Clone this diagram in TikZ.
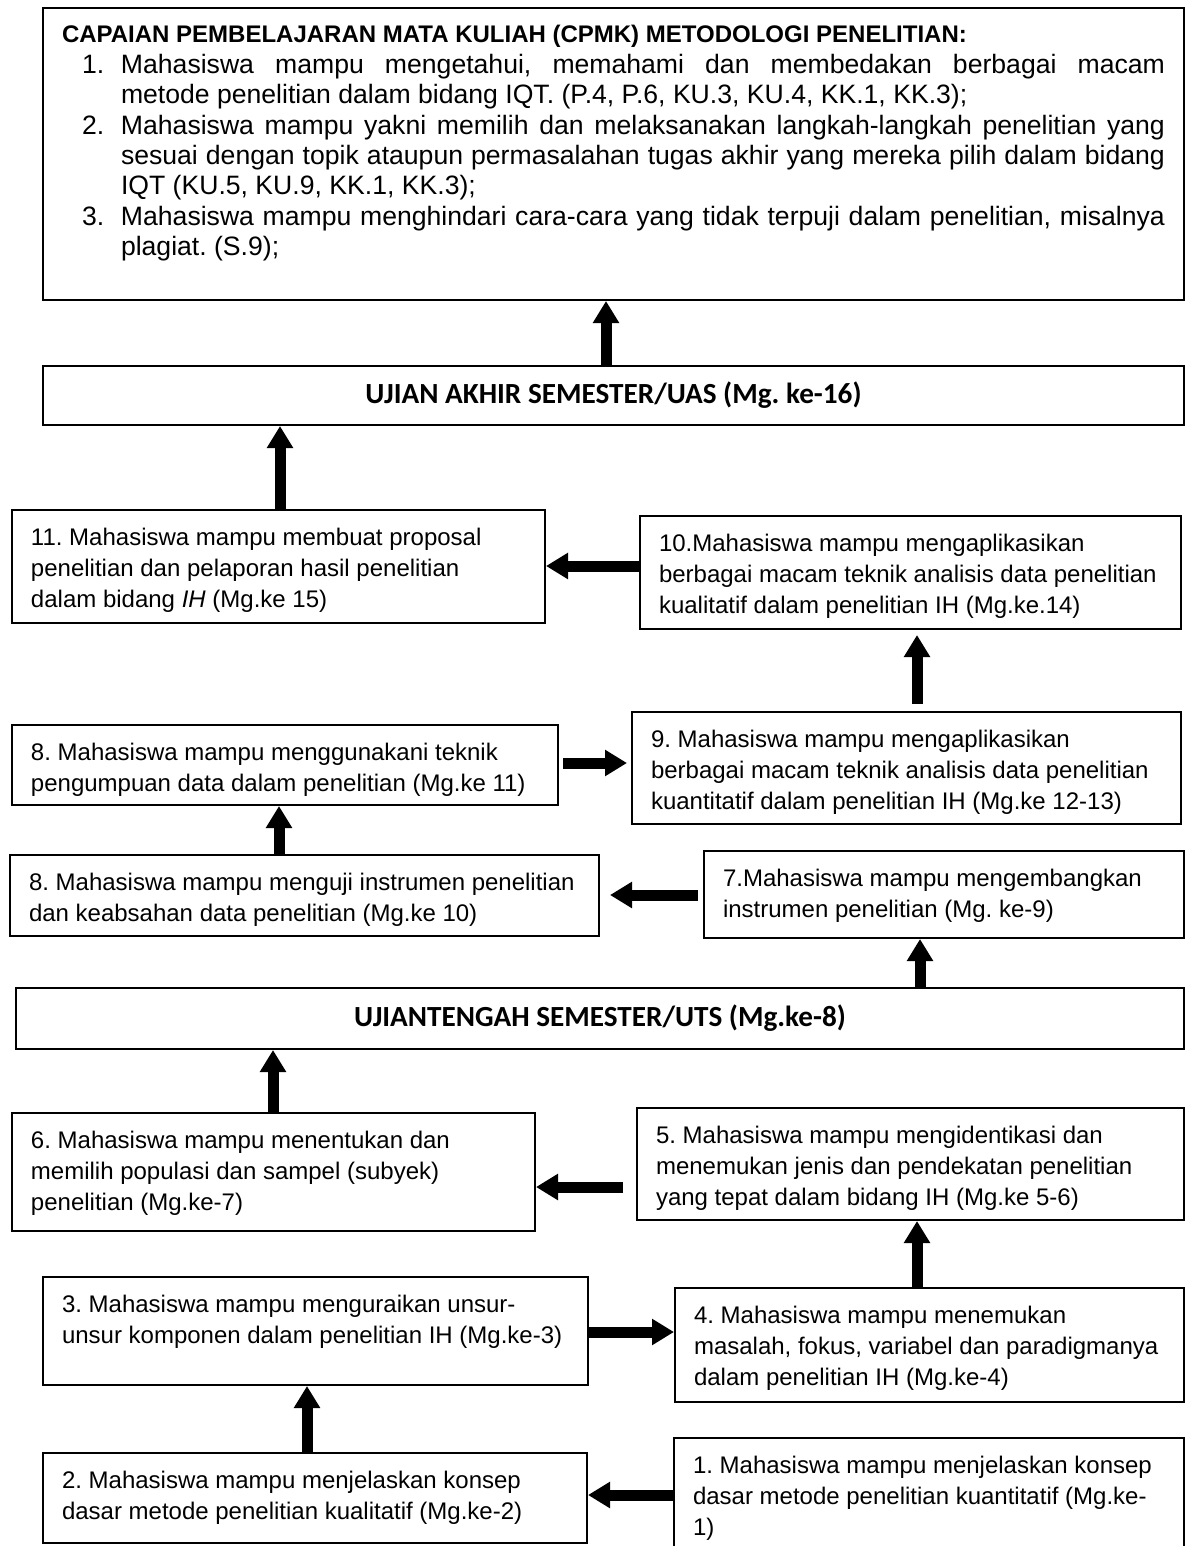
\documentclass[tikz,border=0pt]{standalone}
\usepackage{fontspec}
\setmainfont{Liberation Sans}
\newfontfamily\carlito{Carlito}
\usetikzlibrary{arrows.meta}
\frenchspacing

\newcommand{\butir}[2]{\par\leftskip=29.5pt\noindent\llap{\makebox[19.5pt][l]{#1}}#2\par}

\tikzset{
  kotak/.style={draw, line width=1pt, anchor=north west, inner xsep=9.5pt, inner ysep=4pt, text height=13.5pt},
  langkah/.style={kotak, align=flush left, font=\fontsize{12}{15.5}\selectfont},
  ujian/.style={draw, line width=1pt, anchor=north west, inner sep=0pt, font=\carlito\bfseries\fontsize{14.6}{17}\selectfont},
  panah/.style={line width=5.5pt, -{Triangle[length=11pt, width=12.5pt]}}
}

\begin{document}
\begin{tikzpicture}[x=0.5pt, y=-0.5pt]
\useasboundingbox (0,0) rectangle (1187,1546);

% Capaian pembelajaran
\node[kotak, text width=551.5pt, text depth=124.5pt, align=justify, font=\fontsize{13.3}{15.2}\selectfont] (cpmk) at (42,7) {%
  \hyphenpenalty=10000 \spaceskip=0pt \xspaceskip=0pt \rightskip=0pt \parfillskip=0pt plus 1fil
  {\fontsize{12}{15.2}\selectfont\bfseries CAPAIAN PEMBELAJARAN MATA KULIAH (CPMK) METODOLOGI PENELITIAN:\par}
  \butir{1.}{Mahasiswa mampu mengetahui, memahami dan membedakan berbagai macam\linebreak metode penelitian dalam bidang IQT. (P.4, P.6, KU.3, KU.4, KK.1, KK.3);}
  \butir{2.}{Mahasiswa mampu yakni memilih dan melaksanakan langkah-langkah penelitian yang\linebreak sesuai dengan topik ataupun permasalahan tugas akhir yang mereka pilih dalam bidang\linebreak IQT (KU.5, KU.9, KK.1, KK.3);}
  \butir{3.}{Mahasiswa mampu menghindari cara-cara yang tidak terpuji dalam penelitian, misalnya\linebreak plagiat. (S.9);}};

% Ujian
\node[ujian, minimum width=570.5pt, minimum height=29.5pt] (uas) at (42,365) {UJIAN AKHIR SEMESTER/UAS (Mg. ke-16)};
\node[ujian, minimum width=584pt, minimum height=30.5pt] (uts) at (15,987) {UJIANTENGAH SEMESTER/UTS (Mg.ke-8)};

% Kotak sesudah UTS
\node[langkah, text width=247.5pt, text depth=35pt] (k11) at (11,509) {11. Mahasiswa mampu membuat proposal\\ penelitian dan pelaporan hasil penelitian\\ dalam bidang \textit{IH} (Mg.ke 15)};
\node[langkah, text width=251.5pt, text depth=35pt] (k10) at (639,515) {10.Mahasiswa mampu mengaplikasikan\\ berbagai macam teknik analisis data penelitian\\ kualitatif dalam penelitian IH (Mg.ke.14)};
\node[langkah, text width=254pt, text depth=18.5pt] (k8a) at (11,724) {8. Mahasiswa mampu menggunakani teknik\\ pengumpuan data dalam penelitian (Mg.ke 11)};
\node[langkah, text width=255.5pt, text depth=34.5pt] (k9) at (631,711) {9. Mahasiswa mampu mengaplikasikan\\ berbagai macam teknik analisis data penelitian\\ kuantitatif dalam penelitian IH (Mg.ke 12-13)};
\node[langkah, text width=275.5pt, text depth=19pt] (k8b) at (9,854) {8. Mahasiswa mampu menguji instrumen penelitian\\ dan keabsahan data penelitian (Mg.ke 10)};
\node[langkah, text width=221pt, text depth=22pt] (k7) at (703,850) {7.Mahasiswa mampu mengembangkan\\ instrumen penelitian (Mg. ke-9)};

% Kotak sebelum UTS
\node[langkah, text width=242.5pt, text depth=37.5pt] (k6) at (11,1112) {6. Mahasiswa mampu menentukan dan\\ memilih populasi dan sampel (subyek)\\ penelitian (Mg.ke-7)};
\node[langkah, text width=254.5pt, text depth=34.5pt] (k5) at (636,1107) {5. Mahasiswa mampu mengidentikasi dan\\ menemukan jenis dan pendekatan penelitian\\ yang tepat dalam bidang IH (Mg.ke 5-6)};
\node[langkah, text width=253.5pt, text depth=32.5pt] (k3) at (42,1276) {3. Mahasiswa mampu menguraikan unsur-\\ unsur komponen dalam penelitian IH (Mg.ke-3)};
\node[langkah, text width=235.5pt, text depth=35.5pt] (k4) at (674,1287) {4. Mahasiswa mampu menemukan\\ masalah, fokus, variabel dan paradigmanya\\ dalam penelitian IH (Mg.ke-4)};
\node[langkah, text width=253pt, text depth=23.5pt] (k2) at (42,1452) {2. Mahasiswa mampu menjelaskan konsep\\ dasar metode penelitian kualitatif (Mg.ke-2)};
\node[langkah, text width=236pt, text depth=35pt] (k1) at (673,1437) {1. Mahasiswa mampu menjelaskan konsep\\ dasar metode penelitian kuantitatif (Mg.ke-\\ 1)};

% Panah
\draw[panah] (k1.west |- 0,1495) -- (k2.east |- 0,1495);
\draw[panah] (k2.north -| 307,0) -- (k3.south -| 307,0);
\draw[panah] (k3.east |- 0,1332) -- (k4.west |- 0,1332);
\draw[panah] (k4.north -| 917,0) -- (k5.south -| 917,0);
\draw[panah, shorten <=6.5pt] (k5.west |- 0,1187) -- (k6.east |- 0,1187);
\draw[panah] (k6.north -| 273,0) -- (uts.south -| 273,0);
\draw[panah] (uts.north -| 920,0) -- (k7.south -| 920,0);
\draw[panah, shorten <=2.5pt, shorten >=5pt] (k7.west |- 0,895) -- (k8b.east |- 0,895);
\draw[panah] (k8b.north -| 279,0) -- (k8a.south -| 279,0);
\draw[panah, shorten <=2pt, shorten >=2pt] (k8a.east |- 0,763) -- (k9.west |- 0,763);
\draw[panah, shorten <=3.5pt, shorten >=2.5pt] (k9.north -| 917,0) -- (k10.south -| 917,0);
\draw[panah] (k10.west |- 0,566) -- (k11.east |- 0,566);
\draw[panah] (k11.north -| 280,0) -- (uas.south -| 280,0);
\draw[panah] (uas.north -| 606,0) -- (cpmk.south -| 606,0);

\end{tikzpicture}
\end{document}
